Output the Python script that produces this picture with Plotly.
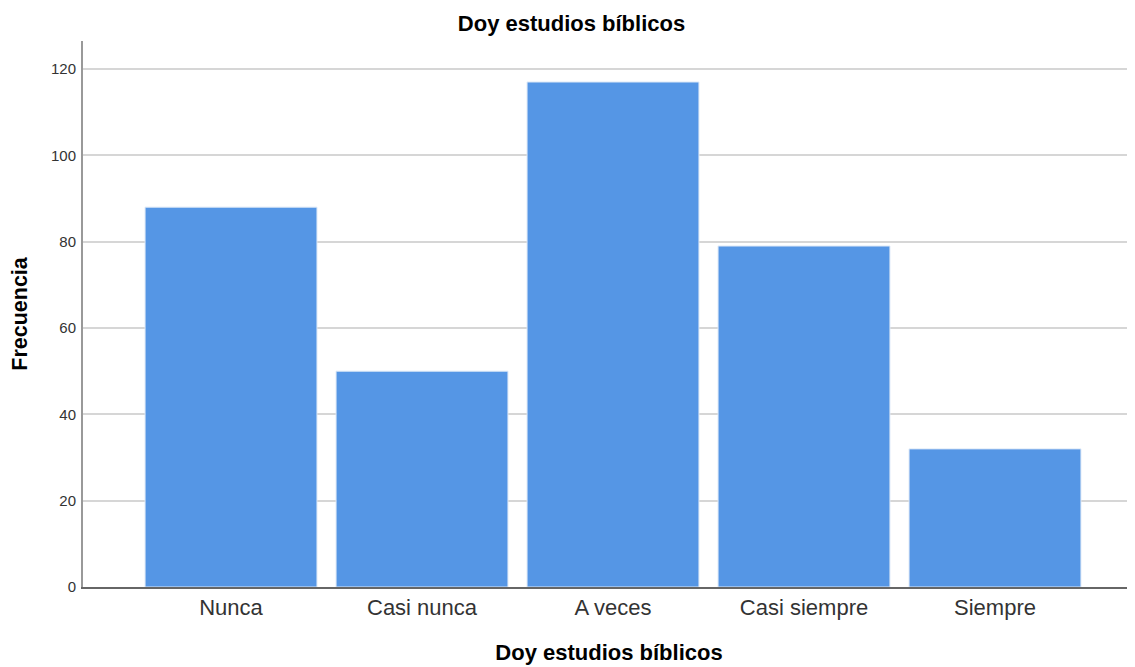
import plotly.graph_objects as go

categories = ["Nunca", "Casi nunca", "A veces", "Casi siempre", "Siempre"]
frecuencia = [88, 50, 117, 79, 32]
y_ticks = [0, 20, 40, 60, 80, 100, 120]

fig = go.Figure(go.Bar(
    x=categories, y=frecuencia,
    marker=dict(color="#5596E5", line=dict(color="#DCE8F7", width=1)),
    width=0.9,
))

FONT = "Arial, Liberation Sans, sans-serif"
fig.update_layout(
    width=1127, height=659,
    margin=dict(l=75, r=0, t=33, b=80),
    paper_bgcolor="white", plot_bgcolor="white",
    showlegend=False,
    title=dict(text="<b>Doy estudios bíblicos</b>", x=0.5, xanchor="center",
               y=1 - 15/659, yanchor="middle",
               font=dict(family=FONT, size=22, color="black")),
    font=dict(family=FONT, color="black"),
)
fig.update_xaxes(
    range=[-0.775, 4.733], showgrid=False, automargin=False,
    showline=True, linecolor="#666666", linewidth=1.5,
    ticks="", tickfont=dict(size=22, color="#333333"),
    title=dict(text="<b>Doy estudios bíblicos</b>", font=dict(size=22), standoff=25),
)
fig.update_yaxes(
    range=[0, 126.5], tickvals=y_ticks, automargin=False,
    showgrid=True, gridcolor="#D6D6D6", gridwidth=2,
    showline=True, linecolor="#999999", linewidth=2,
    ticks="", ticklabelstandoff=2, zeroline=False,
    tickfont=dict(size=15, color="#333333"),
    title=dict(text="<b>Frecuencia</b>", font=dict(size=21.5), standoff=24),
)

fig.write_html("out.html")
